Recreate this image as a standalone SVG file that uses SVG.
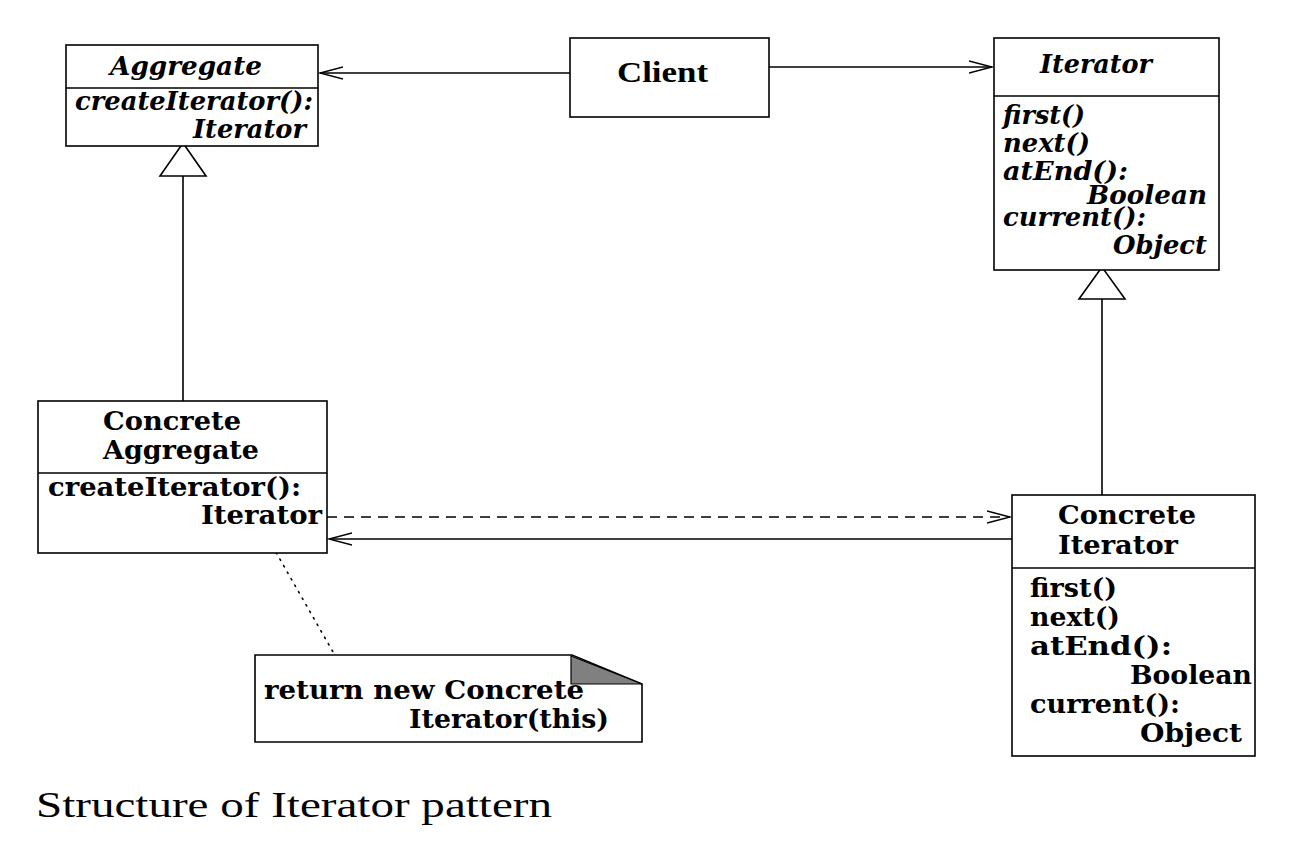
<svg xmlns="http://www.w3.org/2000/svg" width="1294" height="843" viewBox="0 0 1294 843">
<style>
.box{fill:#fff;stroke:#000;stroke-width:1.6}
.ln{stroke:#000;stroke-width:1.6;fill:none}
.t{font-family:"DejaVu Serif","Liberation Serif",serif;font-weight:bold;font-size:26px;fill:#000}
.i{font-style:italic}
.cl{font-family:"Liberation Serif","Times New Roman",serif;font-weight:bold;font-size:30px}
.cap{font-family:"Liberation Serif","DejaVu Serif",serif;font-size:36px;fill:#000}
</style>
<defs>
<marker id="open" markerWidth="26" markerHeight="16" refX="23" refY="7" orient="auto" markerUnits="userSpaceOnUse">
<path d="M0,1 L23,7 L0,13" fill="none" stroke="#000" stroke-width="1.4"/>
</marker>
</defs>
<rect width="1294" height="843" fill="#fff"/>

<g id="connectors">
<line class="ln" x1="570" y1="73" x2="320" y2="73" marker-end="url(#open)"/>
<line class="ln" x1="769" y1="67" x2="992" y2="67" marker-end="url(#open)"/>
<line class="ln" x1="183" y1="176" x2="183" y2="401"/>
<polygon points="183,143 160,176 206,176" fill="#fff" stroke="#000" stroke-width="1.6"/>
<line class="ln" x1="1102" y1="299" x2="1102" y2="495"/>
<polygon points="1102,267 1079,299 1125,299" fill="#fff" stroke="#000" stroke-width="1.6"/>
<line class="ln" x1="327" y1="517" x2="1010" y2="517" stroke-dasharray="10,7" marker-end="url(#open)"/>
<line class="ln" x1="1012" y1="539" x2="329" y2="539" marker-end="url(#open)"/>
<line class="ln" x1="265" y1="533" x2="333" y2="652" stroke-dasharray="1.5,6" stroke-linecap="round"/>
</g>

<g id="aggregate">
<rect class="box" x="66" y="45" width="252" height="101"/>
<line class="ln" x1="66" y1="88" x2="318" y2="88"/>
<text class="t i" x="110" y="75" textLength="152" lengthAdjust="spacingAndGlyphs">Aggregate</text>
<text class="t i" x="75" y="110" textLength="238" lengthAdjust="spacingAndGlyphs">createIterator():</text>
<text class="t i" x="193" y="138" textLength="113" lengthAdjust="spacingAndGlyphs">Iterator</text>
</g>

<g id="client">
<rect class="box" x="570" y="38" width="199" height="79"/>
<text class="cl" x="617" y="82" textLength="91" lengthAdjust="spacingAndGlyphs">Client</text>
</g>

<g id="iterator">
<rect class="box" x="994" y="38" width="225" height="232"/>
<line class="ln" x1="994" y1="96" x2="1219" y2="96"/>
<text class="t i" x="1040" y="73" textLength="112" lengthAdjust="spacingAndGlyphs">Iterator</text>
<text class="t i" x="1003" y="124" textLength="82" lengthAdjust="spacingAndGlyphs">first()</text>
<text class="t i" x="1003" y="152" textLength="87" lengthAdjust="spacingAndGlyphs">next()</text>
<text class="t i" x="1003" y="180" textLength="125" lengthAdjust="spacingAndGlyphs">atEnd():</text>
<text class="t i" x="1087" y="204" textLength="120" lengthAdjust="spacingAndGlyphs">Boolean</text>
<text class="t i" x="1003" y="226" textLength="143" lengthAdjust="spacingAndGlyphs">current():</text>
<text class="t i" x="1113" y="254" textLength="94" lengthAdjust="spacingAndGlyphs">Object</text>
</g>

<g id="concrete-aggregate">
<rect class="box" x="38" y="401" width="289" height="152"/>
<line class="ln" x1="38" y1="473" x2="327" y2="473"/>
<text class="t" x="103" y="430" textLength="138" lengthAdjust="spacingAndGlyphs">Concrete</text>
<text class="t" x="103" y="459" textLength="156" lengthAdjust="spacingAndGlyphs">Aggregate</text>
<text class="t" x="48" y="496" textLength="253" lengthAdjust="spacingAndGlyphs">createIterator():</text>
<text class="t" x="201" y="524" textLength="121" lengthAdjust="spacingAndGlyphs">Iterator</text>
</g>

<g id="concrete-iterator">
<rect class="box" x="1012" y="495" width="243" height="261"/>
<line class="ln" x1="1012" y1="568" x2="1255" y2="568"/>
<text class="t" x="1058" y="524" textLength="138" lengthAdjust="spacingAndGlyphs">Concrete</text>
<text class="t" x="1058" y="554" textLength="120" lengthAdjust="spacingAndGlyphs">Iterator</text>
<text class="t" x="1030" y="597" textLength="87" lengthAdjust="spacingAndGlyphs">first()</text>
<text class="t" x="1030" y="626" textLength="90" lengthAdjust="spacingAndGlyphs">next()</text>
<text class="t" x="1030" y="655" textLength="142" lengthAdjust="spacingAndGlyphs">atEnd():</text>
<text class="t" x="1130" y="684" textLength="122" lengthAdjust="spacingAndGlyphs">Boolean</text>
<text class="t" x="1030" y="713" textLength="150" lengthAdjust="spacingAndGlyphs">current():</text>
<text class="t" x="1140" y="742" textLength="102" lengthAdjust="spacingAndGlyphs">Object</text>
</g>

<g id="note">
<path d="M255,655 L572,655 L642,684 L642,742 L255,742 Z" fill="#fff" stroke="#000" stroke-width="1.6"/>
<polygon points="571,656 642,684 571,684" fill="#808080" stroke="#000" stroke-width="1.2"/>
<text class="t" x="264" y="699" textLength="320" lengthAdjust="spacingAndGlyphs">return new Concrete</text>
<text class="t" x="409" y="728" textLength="200" lengthAdjust="spacingAndGlyphs">Iterator(this)</text>
</g>

<text class="cap" x="36" y="817" textLength="516" lengthAdjust="spacingAndGlyphs">Structure of Iterator pattern</text>
</svg>
